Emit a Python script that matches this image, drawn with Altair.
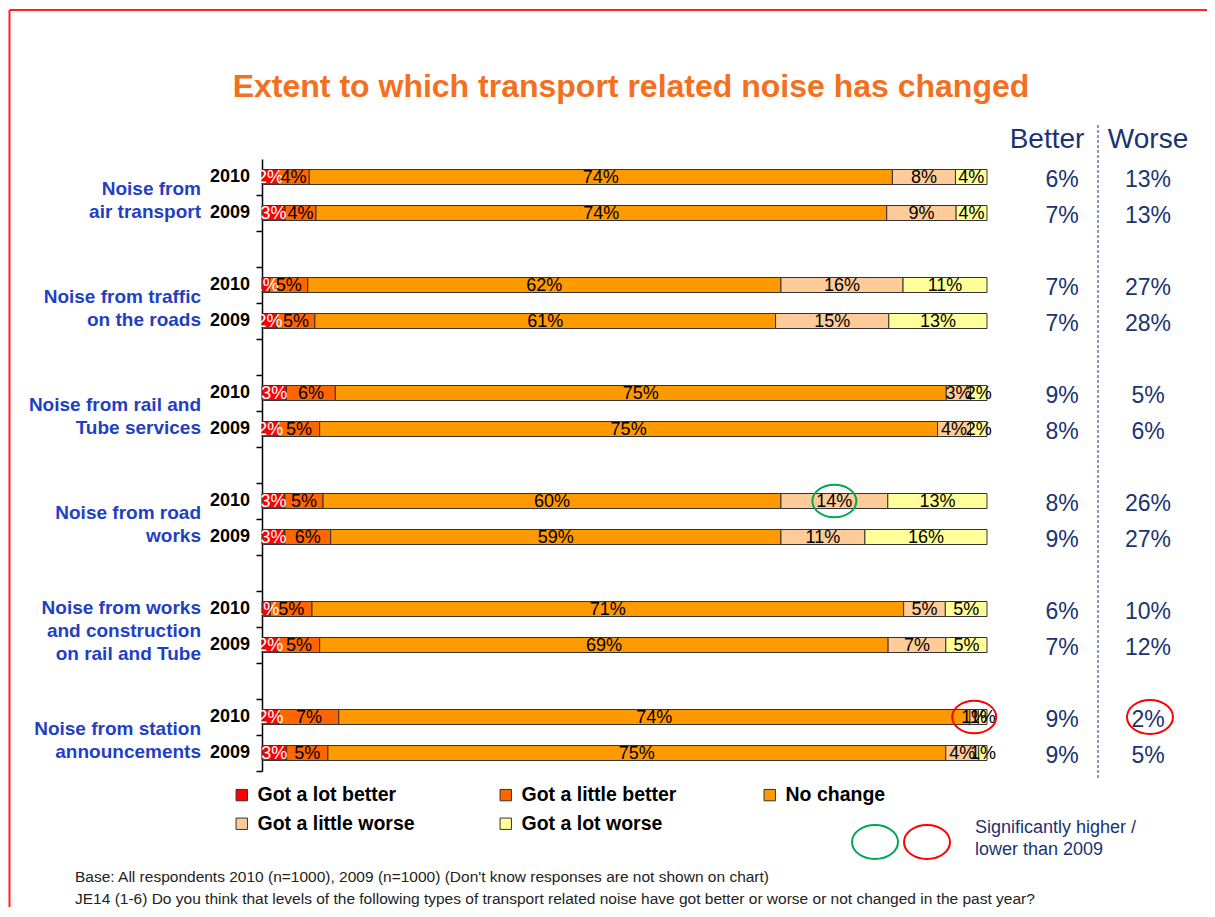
import altair as alt
import pandas as pd

# ---------------- data ----------------
groups = [
    "Noise from\nair transport",
    "Noise from traffic\non the roads",
    "Noise from rail and\nTube services",
    "Noise from road\nworks",
    "Noise from works\nand construction\non rail and Tube",
    "Noise from station\nannouncements",
]
years = ["2010", "2009"]
categories = ["Got a lot better", "Got a little better", "No change",
              "Got a little worse", "Got a lot worse"]
colors = ["#FF0000", "#FF6600", "#FF9900", "#FFCC99", "#FFFF99"]

# rows: group0-2010, group0-2009, group1-2010, ...
lot_better    = [2, 3, 1, 2, 3, 2, 3, 3, 1, 2, 2, 3]
little_better = [4, 4, 5, 5, 6, 5, 5, 6, 5, 5, 7, 5]
no_change     = [74, 74, 62, 61, 75, 75, 60, 59, 71, 69, 74, 75]
little_worse  = [8, 9, 16, 15, 3, 4, 14, 11, 5, 7, 1, 4]
lot_worse     = [4, 4, 11, 13, 2, 2, 13, 16, 5, 5, 1, 1]
better_tot    = [6, 7, 7, 7, 9, 8, 8, 9, 6, 7, 9, 9]
worse_tot     = [13, 13, 27, 28, 5, 6, 26, 27, 10, 12, 2, 5]

# significance markers: (row, category, colour)
sig_segments = [(6, "Got a little worse", "#00A651"), (10, "Got a little worse", "#FF0000")]
sig_worse = [(10, "#FF0000")]

title_text = "Extent to which transport related noise has changed"
footer1 = "Base: All respondents 2010 (n=1000),  2009 (n=1000)  (Don't  know  responses are not shown on chart)"
footer2 = ("JE14 (1-6)  Do you think that levels of the following types of transport related noise "
           "have got better or worse or not changed in the past year?")
sig_note = "Significantly higher /\nlower than 2009"

# ---------------- tables ----------------
FONT = "Liberation Sans"
NAVY = "#1B3370"
BLUE = "#1F3FC4"
n_rows = len(no_change)
slots = [f"{s:02d}" for s in range(3 * len(groups) - 1)]


def slot_of(i):
    return f"{3 * (i // 2) + (i % 2):02d}"


series = [lot_better, little_better, no_change, little_worse, lot_worse]
recs = []
for i in range(n_rows):
    for k, cat in enumerate(categories):
        sig = ""
        for (r, c, col) in sig_segments:
            if r == i and c == cat:
                sig = col
        recs.append({"slot": slot_of(i), "category": cat, "order": k,
                     "value": series[k][i], "sig": sig})
bars_df = pd.DataFrame(recs)

rows_df = pd.DataFrame({
    "slot": [slot_of(i) for i in range(n_rows)],
    "year": [years[i % 2] for i in range(n_rows)],
    "better": [f"{v}%" for v in better_tot],
    "worse": [f"{v}%" for v in worse_tot],
    "wsig": [next((c for (r, c) in sig_worse if r == i), "") for i in range(n_rows)],
})
groups_df = pd.DataFrame({"slot": [f"{3 * g:02d}" for g in range(len(groups))],
                          "label": groups,
                          "nlines": [g.count("\n") + 1 for g in groups]})

ELLIPSE = "M -1 0 A 1 0.74 0 1 1 1 0 A 1 0.74 0 1 1 -1 0 Z"

yscale = alt.Scale(domain=slots, paddingInner=0, paddingOuter=0)
xscale = alt.Scale(domain=[0, 1])

base = alt.Chart(bars_df).transform_stack(
    stack="value", groupby=["slot"], as_=["x0", "x1"], offset="normalize",
    sort=[alt.SortField("order", order="ascending")]
)

bars = base.mark_bar(size=15, stroke="#333333", strokeWidth=1).encode(
    x=alt.X("x0:Q", scale=xscale, axis=None),
    x2="x1:Q",
    y=alt.Y("slot:N", scale=yscale,
            axis=alt.Axis(title=None, labels=False, ticks=True, tickSize=6,
                          tickColor="black", domainColor="black", domainWidth=1.5,
                          tickWidth=1.5, bandPosition=1, grid=False)),
    fill=alt.Fill("category:N", scale=alt.Scale(domain=categories, range=colors),
                  legend=alt.Legend(orient="none", legendX=-30, legendY=626,
                                    direction="horizontal",
                                    columns=3, gridAlign="all", columnPadding=81,
                                    rowPadding=8, title=None, labelFont=FONT,
                                    labelFontSize=19.5, labelFontWeight="bold",
                                    labelColor="black", symbolType="square",
                                    symbolSize=130, symbolStrokeColor="#333333",
                                    symbolStrokeWidth=1, labelOffset=6,
                                    labelLimit=300)),
    order=alt.Order("order:Q"),
)

seg_labels = base.transform_calculate(
    mid="(datum.x0 + datum.x1) / 2", label="datum.value + '%'"
).mark_text(font=FONT, fontSize=18, baseline="middle", dy=1).encode(
    x=alt.X("mid:Q", scale=xscale, axis=None),
    y=alt.Y("slot:N", scale=yscale),
    text="label:N",
    color=alt.condition(alt.datum.category == "Got a lot better",
                        alt.value("white"), alt.value("black")),
)

seg_sig = base.transform_calculate(
    mid="(datum.x0 + datum.x1) / 2"
).transform_filter("datum.sig != ''").mark_point(
    shape=ELLIPSE, size=44 * 44, filled=False, strokeWidth=2, opacity=1, dx=-2
).encode(
    x=alt.X("mid:Q", scale=xscale, axis=None),
    y=alt.Y("slot:N", scale=yscale),
    color=alt.Color("sig:N", scale=None),
)

year_labels = alt.Chart(rows_df).mark_text(
    font=FONT, fontSize=18, fontWeight="bold", align="right", baseline="middle", color="black"
).encode(x=alt.value(-12), y=alt.Y("slot:N", scale=yscale), text="year:N")


def group_layer(nl, dy):
    return alt.Chart(groups_df).transform_filter(f"datum.nlines == {nl}").mark_text(
        font=FONT, fontSize=19, fontWeight="bold", align="right", baseline="middle",
        color=BLUE, lineBreak="\n", lineHeight=23, dy=dy
    ).encode(x=alt.value(-61), y=alt.Y("slot:N", scale=yscale, bandPosition=1),
             text="label:N")


group_labels2 = group_layer(2, -6)
group_labels3 = group_layer(3, -19)

better_vals = alt.Chart(rows_df).mark_text(
    font=FONT, fontSize=23, align="center", baseline="middle", color=NAVY, dy=3
).encode(x=alt.value(800), y=alt.Y("slot:N", scale=yscale), text="better:N")

worse_vals = alt.Chart(rows_df).mark_text(
    font=FONT, fontSize=23, align="center", baseline="middle", color=NAVY, dy=3
).encode(x=alt.value(886), y=alt.Y("slot:N", scale=yscale), text="worse:N")

worse_sig = alt.Chart(rows_df).transform_filter("datum.wsig != ''").mark_point(
    shape=ELLIPSE, size=46 * 46, filled=False, strokeWidth=2, opacity=1, dy=3
).encode(x=alt.value(888), y=alt.Y("slot:N", scale=yscale),
         color=alt.Color("wsig:N", scale=None))


def note(text, x, y, **kw):
    return alt.Chart(pd.DataFrame({"t": [text]})).mark_text(font=FONT, **kw).encode(
        x=alt.value(x), y=alt.value(y), text="t:N")


title = note(title_text, 369, -72, fontSize=32, fontWeight="bold", color="#F37021",
             align="center", baseline="middle")
hdr_better = note("Better", 785, -19, fontSize=28, color=NAVY, align="center", baseline="middle")
hdr_worse = note("Worse", 886, -19, fontSize=28, color=NAVY, align="center", baseline="middle")
foot1 = note(footer1, -187, 718, fontSize=15.5, color="#222222", align="left", baseline="middle")
foot2 = note(footer2, -187, 740, fontSize=15.5, color="#222222", align="left", baseline="middle")
signote = note(sig_note, 713, 660, fontSize=18, color=NAVY, align="left", baseline="top",
               lineBreak="\n", lineHeight=22)

divider = alt.Chart(pd.DataFrame({"a": [0]})).mark_rule(
    color=NAVY, strokeWidth=1, strokeDash=[3, 2]
).encode(x=alt.value(836), y=alt.value(-34), y2=alt.value(621))

border_left = alt.Chart(pd.DataFrame({"a": [0]})).mark_rule(color="#FF2020", strokeWidth=2).encode(
    x=alt.value(-252.5), y=alt.value(-149), y2=alt.value(760))
border_top = alt.Chart(pd.DataFrame({"a": [0]})).mark_rule(color="#FF2020", strokeWidth=2).encode(
    x=alt.value(-252.5), x2=alt.value(960), y=alt.value(-149))

leg_green = alt.Chart(pd.DataFrame({"a": [0]})).mark_point(
    shape=ELLIPSE, size=46 * 46, filled=False, strokeWidth=2, color="#00A651", opacity=1
).encode(x=alt.value(613), y=alt.value(683))
leg_red = alt.Chart(pd.DataFrame({"a": [0]})).mark_point(
    shape=ELLIPSE, size=46 * 46, filled=False, strokeWidth=2, color="#FF0000", opacity=1
).encode(x=alt.value(665), y=alt.value(683))

chart = alt.layer(
    bars, seg_labels, seg_sig, year_labels, group_labels2, group_labels3, better_vals,
    worse_vals, worse_sig, title, hdr_better, hdr_worse, foot1, foot2, signote, divider,
    border_left, border_top, leg_green, leg_red,
).properties(
    width=725, height=612,
    autosize=alt.AutoSizeParams(type="none"),
    padding={"left": 254, "top": 151, "right": 220, "bottom": 136},
).configure_view(stroke=None)

chart.save("out.html", embed_options={"renderer": "svg", "actions": False})
